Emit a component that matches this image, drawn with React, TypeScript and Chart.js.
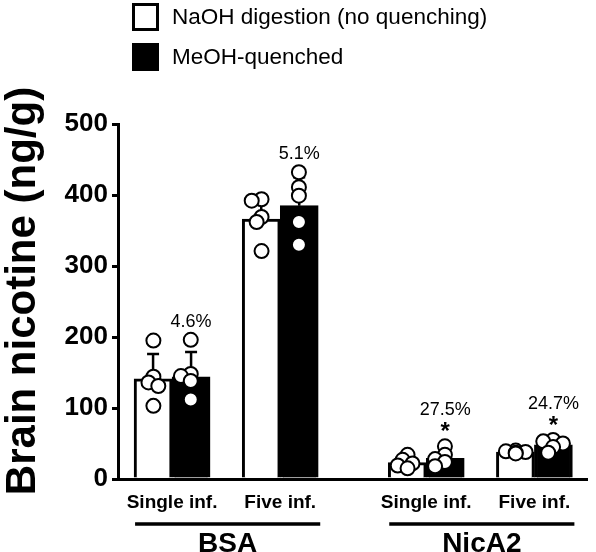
import React, { useEffect, useRef } from 'react';
import { Chart, registerables } from 'chart.js';

Chart.register(...registerables);

// ---------- data ----------
const CATEGORIES = ['Single inf.', 'Five inf.', 'Single inf.', 'Five inf.'];
const CATEGORY_GROUP = [0, 0, 1, 1];
const GROUPS = ['BSA', 'NicA2'];
const SERIES = ['NaOH digestion (no quenching)', 'MeOH-quenched'];
const Y_TITLE = 'Brain nicotine (ng/g)';

const NAOH_MEAN = [141, 366, 23, 38];
const MEOH_MEAN = [144, 385, 29, 48];
const NAOH_SD = [35, 31, 8, 3];
const MEOH_SD = [35, 40, 11, 8];

const NAOH_POINTS = [
  [195, 144, 136, 131, 103],
  [394, 392, 369, 362, 321],
  [34, 27, 22, 19, 15],
  [40, 39, 38, 37, 36],
];
const MEOH_POINTS = [
  [196, 148, 145, 138, 112],
  [432, 411, 399, 362, 330],
  [46, 34, 28, 24, 18],
  [55, 53, 50, 45, 37],
];

const PCT_LABELS = ['4.6%', '5.1%', '27.5%', '24.7%'];
const SIGNIFICANT = [false, false, true, true];

const Y_TICKS_MAX = 500;
const Y_STEP = 100;

// ---------- layout / style ----------
const FONT = '"Liberation Sans", Arial, Helvetica, sans-serif';
const W = 596;
const H = 552;
const X_PX_PER_UNIT = 110;
const Y_PX_PER_UNIT = 0.71;
const BAR_PX = 38;
const GROUP_GAP = 0.35;
const POSITIONS = CATEGORIES.map((_, i) => i + CATEGORY_GROUP[i] * GROUP_GAP);
const BAR_OFFSET = BAR_PX / 2 / X_PX_PER_UNIT;

function swarm(values: number[], center: number) {
  const STEP = 5;
  const MIN = 7;
  const placed: { dx: number; dy: number }[] = [];
  const res: { x: number; y: number }[] = new Array(values.length);
  const order = values.map((_, i) => i).sort((a, b) => values[b] - values[a]);
  for (const i of order) {
    const py = values[i] * Y_PX_PER_UNIT;
    let chosen = 0;
    for (const k of [0, -1, 1, -2, 2, -3, 3]) {
      const px = k * STEP;
      if (placed.every((p) => Math.hypot(p.dx - px, p.dy - py) >= MIN)) {
        chosen = px;
        break;
      }
    }
    placed.push({ dx: chosen, dy: py });
    res[i] = { x: center + chosen / X_PX_PER_UNIT, y: values[i] };
  }
  return res;
}

const MEANS = [NAOH_MEAN, MEOH_MEAN];
const SDS = [NAOH_SD, MEOH_SD];

const overlayPlugin = {
  id: 'overlay',
  afterDatasetDraw(chart: any, args: any) {
    if (args.index > 1) return;
    const ctx = chart.ctx;
    const y = chart.scales.y;
    const means = MEANS[args.index];
    const sds = SDS[args.index];
    ctx.save();
    ctx.strokeStyle = '#000';
    ctx.lineWidth = 2.5;
    args.meta.data.forEach((el: any, j: number) => {
      const x = el.x;
      const y0 = y.getPixelForValue(means[j]);
      const y1 = y.getPixelForValue(means[j] + sds[j]);
      ctx.beginPath();
      ctx.moveTo(x, y0);
      ctx.lineTo(x, y1);
      ctx.moveTo(x - 6, y1);
      ctx.lineTo(x + 6, y1);
      ctx.stroke();
    });
    ctx.restore();
  },
  afterDraw(chart: any) {
    const ctx = chart.ctx;
    const xs = chart.scales.x;
    const ys = chart.scales.y;
    ctx.save();
    ctx.fillStyle = '#000';
    ctx.strokeStyle = '#000';

    // y axis title
    ctx.save();
    ctx.translate(23, 291);
    ctx.rotate(-Math.PI / 2);
    ctx.font = `bold 42px ${FONT}`;
    ctx.textAlign = 'center';
    ctx.textBaseline = 'middle';
    ctx.fillText(Y_TITLE, 0, 0);
    ctx.restore();

    // annotations above MeOH bars
    const meohMeta = chart.getDatasetMeta(1);
    PCT_LABELS.forEach((lab, i) => {
      const el = meohMeta.data[i];
      const maxPt = Math.max(...MEOH_POINTS[i]);
      const topPx = Math.min(
        ys.getPixelForValue(maxPt) - 8,
        ys.getPixelForValue(MEOH_MEAN[i] + MEOH_SD[i])
      );
      ctx.textAlign = 'center';
      if (SIGNIFICANT[i]) {
        ctx.font = `bold 24px ${FONT}`;
        ctx.textBaseline = 'alphabetic';
        ctx.fillText('*', el.x, topPx + 1);
        ctx.font = `18px ${FONT}`;
        ctx.textBaseline = 'middle';
        ctx.fillText(lab, el.x, topPx - 28);
      } else {
        ctx.font = `18px ${FONT}`;
        ctx.textBaseline = 'middle';
        ctx.fillText(lab, el.x, topPx - 10);
      }
    });

    // group brackets
    GROUPS.forEach((g, gi) => {
      const idx = CATEGORY_GROUP.map((c, i) => (c === gi ? i : -1)).filter((i) => i >= 0);
      const x0 = xs.getPixelForValue(POSITIONS[idx[0]]) - 37;
      const x1 = xs.getPixelForValue(POSITIONS[idx[idx.length - 1]]) + 40;
      ctx.lineWidth = 3.5;
      ctx.beginPath();
      ctx.moveTo(x0, 524);
      ctx.lineTo(x1, 524);
      ctx.stroke();
      ctx.font = `bold 28px ${FONT}`;
      ctx.textAlign = 'center';
      ctx.textBaseline = 'middle';
      ctx.fillText(g, (x0 + x1) / 2, 544);
    });

    // legend
    chart.data.datasets.slice(0, 2).forEach((ds: any, i: number) => {
      const by = 3 + i * 40;
      ctx.fillStyle = ds.backgroundColor;
      ctx.fillRect(132, by, 27, 28);
      ctx.lineWidth = 3;
      ctx.strokeStyle = '#000';
      ctx.strokeRect(133.5, by + 1.5, 24, 25);
      ctx.fillStyle = '#000';
      ctx.font = `22.5px ${FONT}`;
      ctx.textAlign = 'left';
      ctx.textBaseline = 'middle';
      ctx.fillText(ds.label, 172, by + 15);
    });
    ctx.restore();
  },
};

export default function App() {
  const ref = useRef<HTMLCanvasElement | null>(null);
  useEffect(() => {
    document.body.style.margin = '0';
    if (!ref.current) return;
    const chart = new Chart(ref.current, {
      type: 'bar',
      data: {
        datasets: [
          {
            type: 'bar',
            label: SERIES[0],
            data: POSITIONS.map((x, i) => ({ x, y: NAOH_MEAN[i] })),
            backgroundColor: '#ffffff',
            borderColor: '#000000',
            borderWidth: 3,
            barThickness: BAR_PX,
            order: 2,
          },
          {
            type: 'bar',
            label: SERIES[1],
            data: POSITIONS.map((x, i) => ({ x, y: MEOH_MEAN[i] })),
            backgroundColor: '#000000',
            borderColor: '#000000',
            borderWidth: 3,
            barThickness: BAR_PX,
            order: 2,
          },
          {
            type: 'scatter',
            label: SERIES[0] + ' points',
            data: POSITIONS.flatMap((p, i) => swarm(NAOH_POINTS[i], p - BAR_OFFSET)),
            pointRadius: 7,
            pointBorderWidth: 2,
            borderColor: '#000000',
            backgroundColor: '#ffffff',
            showLine: false,
            order: 0,
          },
          {
            type: 'scatter',
            label: SERIES[1] + ' points',
            data: POSITIONS.flatMap((p, i) => swarm(MEOH_POINTS[i], p + BAR_OFFSET)),
            pointRadius: 7,
            pointBorderWidth: 2,
            borderColor: '#000000',
            backgroundColor: '#ffffff',
            showLine: false,
            order: 0,
          },
        ] as any,
      },
      options: {
        animation: false,
        responsive: false,
        devicePixelRatio: 1,
        layout: { padding: { top: 124, right: 1, left: 0, bottom: 0 } },
        plugins: { legend: { display: false }, tooltip: { enabled: false } },
        scales: {
          x: {
            type: 'linear',
            min: -0.5,
            max: (W - 1 - 118) / X_PX_PER_UNIT - 0.5,
            offset: false,
            grid: { display: false, drawTicks: false },
            border: { display: true, color: '#000', width: 3 },
            afterBuildTicks: (scale: any) => {
              scale.ticks = POSITIONS.map((v) => ({ value: v }));
            },
            afterFit: (scale: any) => {
              scale.height = H - 479;
            },
            ticks: {
              autoSkip: false,
              maxRotation: 0,
              padding: 12,
              color: '#000',
              font: { family: FONT, size: 19, weight: 'bold' },
              callback: (_v: any, i: number) => CATEGORIES[i],
            },
          },
          y: {
            type: 'linear',
            min: 0,
            max: Y_TICKS_MAX,
            grid: { drawOnChartArea: false, drawTicks: true, tickLength: 6, lineWidth: 3, color: '#000' },
            border: { display: true, color: '#000', width: 3 },
            afterFit: (scale: any) => {
              scale.width = 118;
            },
            ticks: {
              stepSize: Y_STEP,
              padding: 4,
              color: '#000',
              font: { family: FONT, size: 26, weight: 'bold' },
            },
            title: { display: false },
          },
        },
      } as any,
      plugins: [overlayPlugin],
    });
    return () => chart.destroy();
  }, []);
  return (
    <div style={{ position: 'absolute', left: 0, top: 0, width: W, height: H }}>
      <canvas ref={ref} width={W} height={H} />
    </div>
  );
}
